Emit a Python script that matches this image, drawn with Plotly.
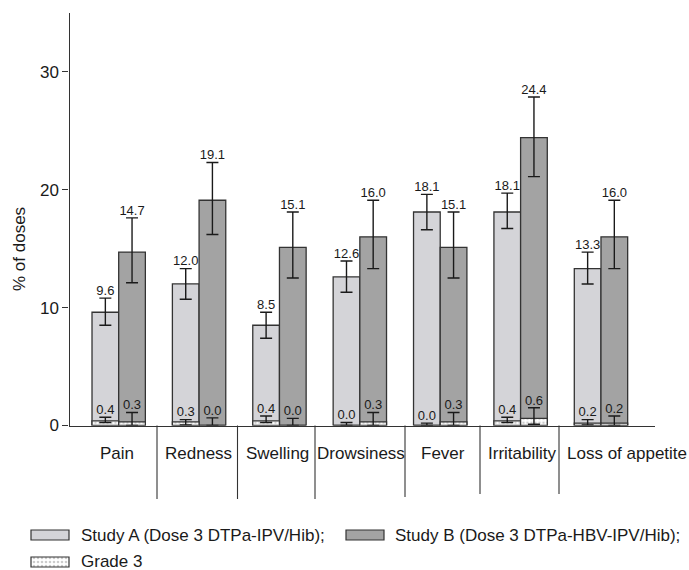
import plotly.graph_objects as go

# ---------------- data ----------------
categories = ["Pain", "Redness", "Swelling", "Drowsiness", "Fever", "Irritability", "Loss of appetite"]

study_a = [9.6, 12.0, 8.5, 12.6, 18.1, 18.1, 13.3]
study_a_hi = [10.8, 13.3, 9.6, 13.95, 19.6, 19.7, 14.7]
study_a_lo = [8.5, 10.7, 7.4, 11.3, 16.6, 16.7, 12.0]

study_b = [14.7, 19.1, 15.1, 16.0, 15.1, 24.4, 16.0]
study_b_hi = [17.6, 22.3, 18.1, 19.1, 18.1, 27.85, 19.1]
study_b_lo = [12.1, 16.2, 12.5, 13.3, 12.5, 21.1, 13.3]

grade3_a = [0.4, 0.3, 0.4, 0.0, 0.0, 0.4, 0.2]
grade3_a_hi = [0.7, 0.5, 0.8, 0.25, 0.2, 0.7, 0.5]
grade3_a_lo = [0.25, 0.05, 0.25, 0.0, 0.0, 0.25, 0.05]

grade3_b = [0.3, 0.0, 0.0, 0.3, 0.3, 0.6, 0.2]
grade3_b_hi = [1.1, 0.65, 0.6, 1.1, 1.1, 1.5, 0.8]
grade3_b_lo = [0.0, 0.0, 0.0, 0.0, 0.0, 0.1, 0.0]

legend_a = "Study A (Dose 3 DTPa-IPV/Hib);"
legend_b = "Study B (Dose 3 DTPa-HBV-IPV/Hib);"
legend_g3 = "Grade 3"
y_title = "% of doses"
y_ticks = [0, 10, 20, 30]

# ---------------- style ----------------
W, H = 689, 570
FONT = "Liberation Sans, Arial, Helvetica, sans-serif"
INK = "#1a1a1a"
LINE = "#333333"
COL_A = "#d4d4d8"
COL_B = "#a3a3a3"
BAR_W = 0.332
G3_PATTERN = dict(shape=".", fgcolor="#9a9a9a", bgcolor="white", size=4, solidity=0.35)

def px_x(p):
    return p / W

def px_y(p):
    return 1 - p / H

x_idx = list(range(len(categories)))
xa = [i - BAR_W / 2 for i in x_idx]
xb = [i + BAR_W / 2 for i in x_idx]

def plus(v, hi):
    return [h - x for x, h in zip(v, hi)]

def minus(v, lo):
    return [x - l for x, l in zip(v, lo)]

def err(v, hi, lo):
    return dict(type="data", symmetric=False, array=plus(v, hi), arrayminus=minus(v, lo),
                color=INK, thickness=1.4, width=6)

fig = go.Figure()

bar_line = dict(color=LINE, width=1.3)

fig.add_trace(go.Bar(x=x_idx, y=study_a, width=BAR_W, offset=-BAR_W,
                     marker=dict(color=COL_A, line=bar_line),
                     error_y=err(study_a, study_a_hi, study_a_lo), name=legend_a))
fig.add_trace(go.Bar(x=x_idx, y=study_b, width=BAR_W, offset=0,
                     marker=dict(color=COL_B, line=bar_line),
                     error_y=err(study_b, study_b_hi, study_b_lo), name=legend_b))
fig.add_trace(go.Bar(x=x_idx, y=grade3_a, width=BAR_W, offset=-BAR_W,
                     marker=dict(color="white", line=bar_line, pattern=G3_PATTERN),
                     error_y=err(grade3_a, grade3_a_hi, grade3_a_lo), name=legend_g3 + " A"))
fig.add_trace(go.Bar(x=x_idx, y=grade3_b, width=BAR_W, offset=0,
                     marker=dict(color="white", line=bar_line, pattern=G3_PATTERN),
                     error_y=err(grade3_b, grade3_b_hi, grade3_b_lo), name=legend_g3 + " B"))

# value labels above error bars
for xs, vals, his in [(xa, study_a, study_a_hi), (xb, study_b, study_b_hi),
                      (xa, grade3_a, grade3_a_hi), (xb, grade3_b, grade3_b_hi)]:
    fig.add_trace(go.Scatter(x=xs, y=his, mode="text", text=[f"{v:.1f}" for v in vals],
                             textposition="top center", cliponaxis=False,
                             textfont=dict(size=13, color=INK, family=FONT),
                             hoverinfo="skip"))

# legend swatches on a helper axis pair (pixel-like units)
sw_line = dict(color=LINE, width=1.2)
fig.add_trace(go.Bar(x=[50], y=[10], base=[530], width=[38], xaxis="x2", yaxis="y2",
                     marker=dict(color=COL_A, line=sw_line), hoverinfo="skip"))
fig.add_trace(go.Bar(x=[365], y=[10], base=[530], width=[38], xaxis="x2", yaxis="y2",
                     marker=dict(color=COL_B, line=sw_line), hoverinfo="skip"))
fig.add_trace(go.Bar(x=[50], y=[10], base=[557], width=[38], xaxis="x2", yaxis="y2",
                     marker=dict(color="white", line=sw_line, pattern=G3_PATTERN), hoverinfo="skip"))

annotations = []
# category labels (irregular positions as in the reference)
label_px = [117, 198, 277, 361, 443, 522, 627]
for name, p in zip(categories, label_px):
    annotations.append(dict(x=px_x(p), y=px_y(453), xref="paper", yref="paper", text=name,
                            showarrow=False, xanchor="center", yanchor="middle",
                            font=dict(size=17, color=INK, family=FONT)))
# y-axis title
annotations.append(dict(x=px_x(19), y=px_y(249), xref="paper", yref="paper", text=y_title,
                        showarrow=False, textangle=-90, xanchor="center", yanchor="middle",
                        font=dict(size=17, color=INK, family=FONT)))
# legend texts
for txt, xp, yp in [(legend_a, 79, 535), (legend_b, 393, 535), (legend_g3, 79, 561)]:
    annotations.append(dict(x=px_x(xp), y=px_y(yp), xref="paper", yref="paper", text=txt,
                            showarrow=False, xanchor="left", yanchor="middle",
                            font=dict(size=17, color=INK, family=FONT)))

# separators between category labels
sep_px = [(157, 499), (237.5, 499), (315, 499), (405, 497), (480, 494), (559, 494)]
shapes = [dict(type="line", xref="paper", yref="paper", x0=px_x(x), x1=px_x(x),
               y0=px_y(425.5), y1=px_y(yb), line=dict(color=LINE, width=1.1))
          for x, yb in sep_px]

fig.update_layout(
    width=W, height=H, margin=dict(l=0, r=0, t=0, b=0, pad=0, autoexpand=False),
    paper_bgcolor="white", plot_bgcolor="white",
    showlegend=False, barmode="overlay",
    font=dict(family=FONT, color=INK),
    xaxis=dict(domain=[px_x(69.5), px_x(655)], range=[-0.612, 6.672], showline=True,
               linecolor=LINE, linewidth=1.2, showticklabels=False, ticks="",
               showgrid=False, zeroline=False, fixedrange=True, automargin=False),
    yaxis=dict(domain=[px_y(425.5), px_y(12.7)], range=[0, 35], tickvals=y_ticks,
               ticks="outside", ticklen=6, tickwidth=1.2, tickcolor=LINE,
               showline=True, linecolor=LINE, linewidth=1.2, showgrid=False, zeroline=False,
               tickfont=dict(size=17, color=INK, family=FONT), automargin=False),
    xaxis2=dict(domain=[0, 1], range=[0, W], anchor="y2", visible=False, automargin=False),
    yaxis2=dict(domain=[0, px_y(500)], range=[H, 500], anchor="x2", visible=False, automargin=False),
    annotations=annotations, shapes=shapes,
)

fig.write_html("out.html")
